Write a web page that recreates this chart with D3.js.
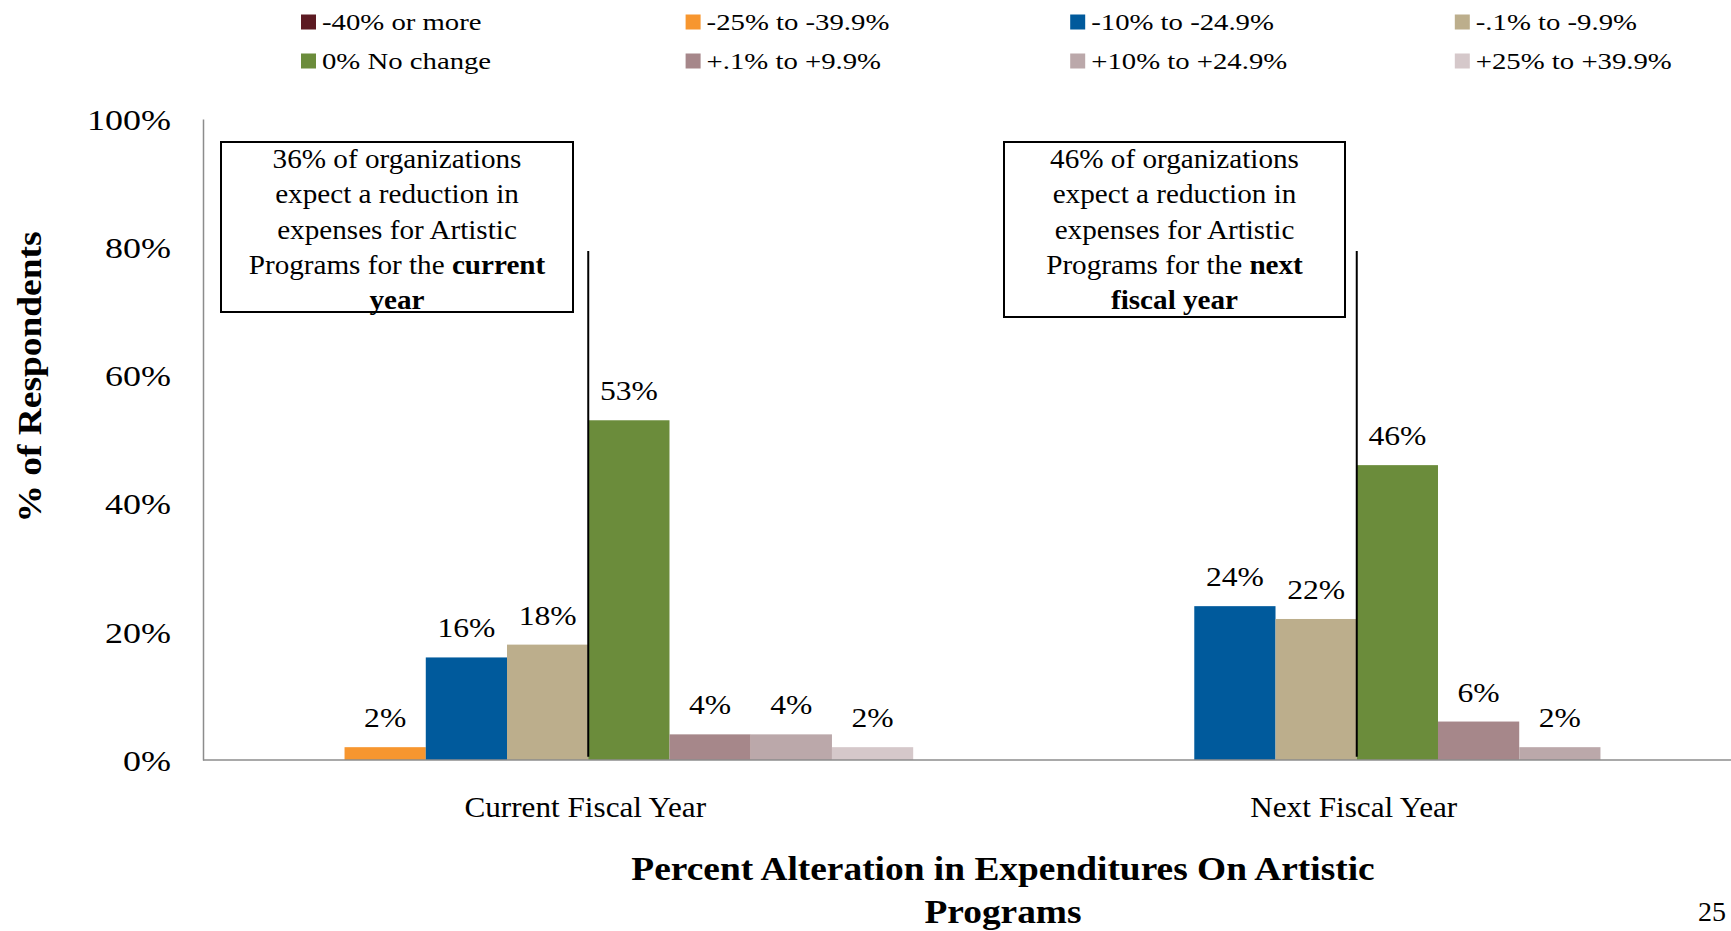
<!DOCTYPE html>
<html>
<head>
<meta charset="utf-8">
<script src="https://cdn.jsdelivr.net/npm/d3@7"></script>
<style>
  body { margin: 0; background: #fff; }
  text { font-family: "Liberation Serif", "Times New Roman", serif; fill: #000; }
</style>
</head>
<body>
<div id="chart"></div>
<script>
// DATA
const categories = ["Current Fiscal Year", "Next Fiscal Year"];
const seriesNames = ["-40% or more", "-25% to -39.9%", "-10% to -24.9%", "-.1% to -9.9%",
                     "0% No change", "+.1% to +9.9%", "+10% to +24.9%", "+25% to +39.9%"];
const currentYear = [0, 2, 16, 18, 53, 4, 4, 2];
const nextYear = [0, 0, 24, 22, 46, 6, 2, 0];
const yTicks = [0, 20, 40, 60, 80, 100];
const seriesColors = ["#5c1a22", "#f7962f", "#005a9c", "#bcae8c",
                      "#6b8c3b", "#a6878a", "#bba8aa", "#d5c8ca"];

const boxLines = [
    [["36% of organizations"], ["expect a reduction in"], ["expenses for Artistic"],
     ["Programs for the ", "current"], ["", "year"]],
    [["46% of organizations"], ["expect a reduction in"], ["expenses for Artistic"],
     ["Programs for the ", "next"], ["", "fiscal year"]]
];

const W = 1731, H = 931;
const margin = { top: 119, right: 0, bottom: 171, left: 203 };

const svg = d3.select("#chart")
    .append("svg")
    .attr("width", W)
    .attr("height", H);

svg.append("rect").attr("width", W).attr("height", H).attr("fill", "#fff");

const rows = categories.map((c, i) => ({ cat: c, values: i === 0 ? currentYear : nextYear }));

// SCALES (category bands run a little past the right edge, like the slide)
const x0 = d3.scaleBand()
    .domain(categories)
    .range([margin.left + 1, W + 10])
    .padding(0);

const x1 = d3.scaleBand()
    .domain(seriesNames)
    .range([0, x0.bandwidth()])
    .paddingInner(0)
    .paddingOuter(0.73);

const y = d3.scaleLinear()
    .domain([0, 100])
    .range([H - margin.bottom, margin.top]);

const color = d3.scaleOrdinal().domain(seriesNames).range(seriesColors);

// small helper: horizontally stretched text like the original slide
function stretch(sel, x, y, k) {
    return sel.attr("transform", `translate(${x},${y}) scale(${k},1)`);
}

// BARS
const groups = svg.selectAll("g.grp")
    .data(rows)
    .enter()
    .append("g")
    .attr("class", "grp")
    .attr("transform", d => `translate(${x0(d.cat)},0)`);

groups.selectAll("rect")
    .data(d => d.values.map((v, i) => ({ key: seriesNames[i], v: v })))
    .enter()
    .append("rect")
    .attr("x", d => x1(d.key))
    .attr("y", d => y(d.v))
    .attr("width", x1.bandwidth())
    .attr("height", d => y(0) - y(d.v))
    .attr("fill", d => color(d.key));

groups.selectAll("text.val")
    .data(d => d.values.map((v, i) => ({ key: seriesNames[i], v: v })).filter(d => d.v > 0))
    .enter()
    .append("text")
    .attr("class", "val")
    .attr("text-anchor", "middle")
    .attr("font-size", "28px")
    .each(function(d) {
        stretch(d3.select(this), x1(d.key) + x1.bandwidth() / 2, y(d.v) - 20, 1.13);
    })
    .text(d => d.v + "%");

// Y AXIS
const yAxis = svg.append("g")
    .attr("transform", `translate(${margin.left},0)`)
    .call(d3.axisLeft(y).tickValues(yTicks).tickSize(0).tickFormat(d => d + "%"));
yAxis.select(".domain").attr("stroke", "#8c8c8c").attr("stroke-width", 1.5);
yAxis.selectAll("text")
    .attr("x", 0)
    .attr("dy", "0.34em")
    .attr("font-size", "30px")
    .attr("font-family", "Liberation Serif")
    .attr("fill", "#222")
    .attr("transform", "translate(-32,0) scale(1.2,1)");

// X AXIS
const xAxis = svg.append("g")
    .attr("transform", `translate(0,${y(0)})`)
    .call(d3.axisBottom(x0).tickSize(0).tickSizeOuter(0));
xAxis.select(".domain").attr("stroke", "#8c8c8c").attr("stroke-width", 1.5)
    .attr("d", `M${margin.left},0H${W}`);
xAxis.selectAll("text")
    .attr("y", 0)
    .attr("dy", 0)
    .attr("font-size", "30px")
    .attr("font-family", "Liberation Serif")
    .attr("fill", "#222")
    .attr("transform", "translate(-3,57) scale(1.04,1)");

// CONNECTOR LINES (left edge of the "No change" bars)
svg.selectAll("line.conn")
    .data(categories)
    .enter()
    .append("line")
    .attr("x1", d => x0(d) + x1("0% No change"))
    .attr("x2", d => x0(d) + x1("0% No change"))
    .attr("y1", y(79.4))
    .attr("y2", y(0.5))
    .attr("stroke", "#000")
    .attr("stroke-width", 2);

// ANNOTATION BOXES
const boxes = [
    { x: 221, y: 142, w: 352, h: 170 },
    { x: 1004, y: 142, w: 341, h: 175 }
];
boxes.forEach((b, i) => {
    svg.append("rect")
        .attr("x", b.x).attr("y", b.y)
        .attr("width", b.w).attr("height", b.h)
        .attr("fill", "#fff")
        .attr("stroke", "#000")
        .attr("stroke-width", 2);
    boxLines[i].forEach((parts, j) => {
        const t = svg.append("text")
            .attr("text-anchor", "middle")
            .attr("font-size", "27px");
        stretch(t, b.x + b.w / 2, b.y + 26 + j * 35.3, 1.08);
        if (parts[0]) t.append("tspan").text(parts[0]);
        if (parts[1]) t.append("tspan").attr("font-weight", "bold").text(parts[1]);
    });
});

// LEGEND
const legend = svg.selectAll(".legend")
    .data(seriesNames)
    .enter()
    .append("g")
    .attr("class", "legend")
    .attr("transform", (d, i) => `translate(${301 + (i % 4) * 384.6}, ${22 + Math.floor(i / 4) * 39})`);

legend.append("rect")
    .attr("y", -7.5)
    .attr("width", 15)
    .attr("height", 15)
    .attr("fill", d => color(d));

legend.append("text")
    .attr("font-size", "23px")
    .attr("fill", "#222")
    .attr("transform", "translate(21,8) scale(1.25,1)")
    .text(d => d);

// AXIS TITLES
svg.append("text")
    .attr("transform", "translate(41,377) rotate(-90) scale(1.1,1)")
    .attr("text-anchor", "middle")
    .attr("font-size", "34px")
    .attr("font-weight", "bold")
    .text("% of  Respondents");

stretch(svg.append("text"), 1003, 880, 1.1)
    .attr("text-anchor", "middle")
    .attr("font-size", "34px")
    .attr("font-weight", "bold")
    .text("Percent Alteration in Expenditures On Artistic");

stretch(svg.append("text"), 1003, 923, 1.1)
    .attr("text-anchor", "middle")
    .attr("font-size", "34px")
    .attr("font-weight", "bold")
    .text("Programs");

// page number in the bottom-right corner
svg.append("text")
    .attr("x", 1726)
    .attr("y", 921)
    .attr("text-anchor", "end")
    .attr("font-size", "28px")
    .text("25");
</script>
</body>
</html>
